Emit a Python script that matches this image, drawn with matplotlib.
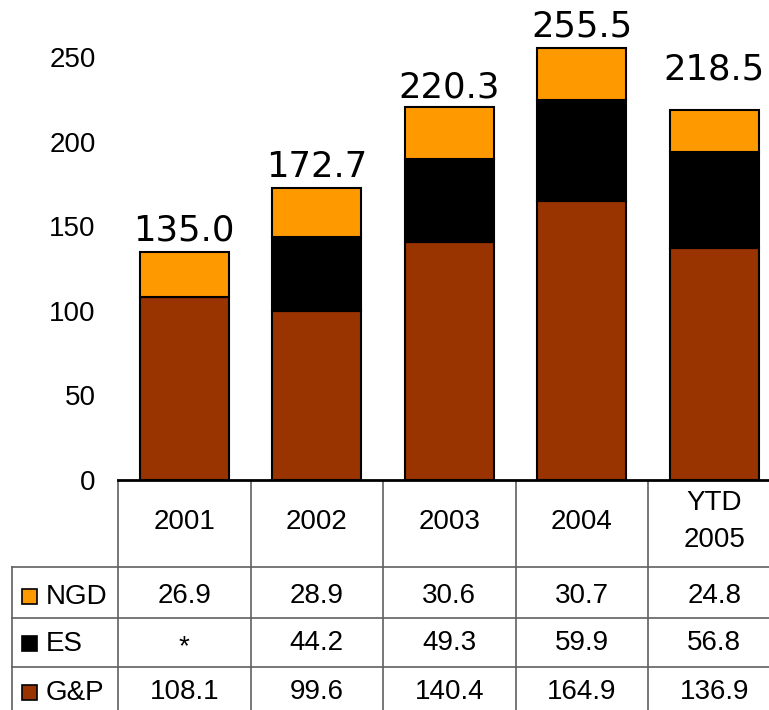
import matplotlib
matplotlib.use("Agg")
import matplotlib.pyplot as plt
from matplotlib.patches import Rectangle
from matplotlib.transforms import blended_transform_factory

# Data
periods = ["2001", "2002", "2003", "2004", "YTD\n2005"]
gp = [108.1, 99.6, 140.4, 164.9, 136.9]
es = [0.0, 44.2, 49.3, 59.9, 56.8]
ngd = [26.9, 28.9, 30.6, 30.7, 24.8]
es_text = ["*", "44.2", "49.3", "59.9", "56.8"]
totals = [135.0, 172.7, 220.3, 255.5, 218.5]
yticks = [0, 50, 100, 150, 200, 250]

series = [("NGD", ngd, "#FF9900"), ("ES", es, "#000000"), ("G&P", gp, "#993300")]

W, H = 769, 710
fig = plt.figure(figsize=(W / 100, H / 100), dpi=100)

# pixel geometry of the chart area
left_px, base_px = 118, 480
col_w = 132.5
ax = fig.add_axes([left_px / W, (H - base_px) / H, (W - left_px) / W, base_px / H])
ax.set_xlim(-0.5, -0.5 + (W - left_px) / col_w)
ax.set_ylim(0, base_px / 1.692)

x = list(range(len(periods)))
bw = 0.67
ax.bar(x, gp, bw, color="#993300", edgecolor="black", linewidth=1.5, zorder=2)
ax.bar(x, es, bw, bottom=gp, color="#000000", edgecolor="black", linewidth=1.5, zorder=2)
bottom2 = [a + b for a, b in zip(gp, es)]
ax.bar(x, ngd, bw, bottom=bottom2, color="#FF9900", edgecolor="black", linewidth=1.5, zorder=2)

label_pad = [8, 8, 7, 8, 22]
for xi, t, p in zip(x, totals, label_pad):
    ax.annotate(f"{t:.1f}", (xi, t), xytext=(0, p), textcoords="offset points",
                ha="center", va="baseline", fontsize=25.5, family="DejaVu Sans")

for s in ["left", "right", "top"]:
    ax.spines[s].set_visible(False)
ax.spines["bottom"].set_linewidth(2)
ax.spines["bottom"].set_color("black")
ax.set_xticks([])
ax.set_yticks(yticks)
ax.set_yticklabels([str(v) for v in yticks], family="Liberation Sans", fontsize=20)
ax.tick_params(axis="y", length=0, pad=16)

# Data table beneath the bars
ov = fig.add_axes([0, 0, 1, 1], zorder=-1)
ov.set_xlim(0, W)
ov.set_ylim(H, 0)
ov.axis("off")
ov.patch.set_alpha(0)

grid = "#606060"
row_lines = [567, 618, 667]
row_bottom = H + 5
table_left = 12
# horizontal row separators
for y in row_lines:
    ov.plot([table_left, W + 20], [y, y], color=grid, lw=1.2, clip_on=False)
# vertical lines
ov.plot([table_left, table_left], [row_lines[0], row_bottom], color=grid, lw=1.2)
for i in range(len(periods)):
    xb = left_px + col_w * i
    ov.plot([xb, xb], [base_px, row_bottom], color=grid, lw=1.2)

tr = blended_transform_factory(ax.transData, ov.transData)
tfont = dict(family="Liberation Sans", fontsize=20, ha="center", va="center")
for xi, p in zip(x, periods):
    if "\n" in p:
        a, b = p.split("\n")
        ov.text(xi, 503, a, transform=tr, **tfont)
        ov.text(xi, 540, b, transform=tr, **tfont)
    else:
        ov.text(xi, 522, p, transform=tr, **tfont)

row_text = [[f"{v:.1f}" for v in ngd], es_text, [f"{v:.1f}" for v in gp]]
row_centers = [596, 643, 692]
for (name, vals, color), texts, yc in zip(series, row_text, row_centers):
    ov.add_patch(Rectangle((22, yc - 7.5), 15, 15, facecolor=color, edgecolor="black", lw=1.2))
    ov.text(46, yc + 1, name, family="Liberation Sans", fontsize=20, ha="left", va="center")
    for xi, t in zip(x, texts):
        ov.text(xi, yc + (4 if t == "*" else 0), t, transform=tr, **tfont)

fig.savefig("out.png", dpi=100)
